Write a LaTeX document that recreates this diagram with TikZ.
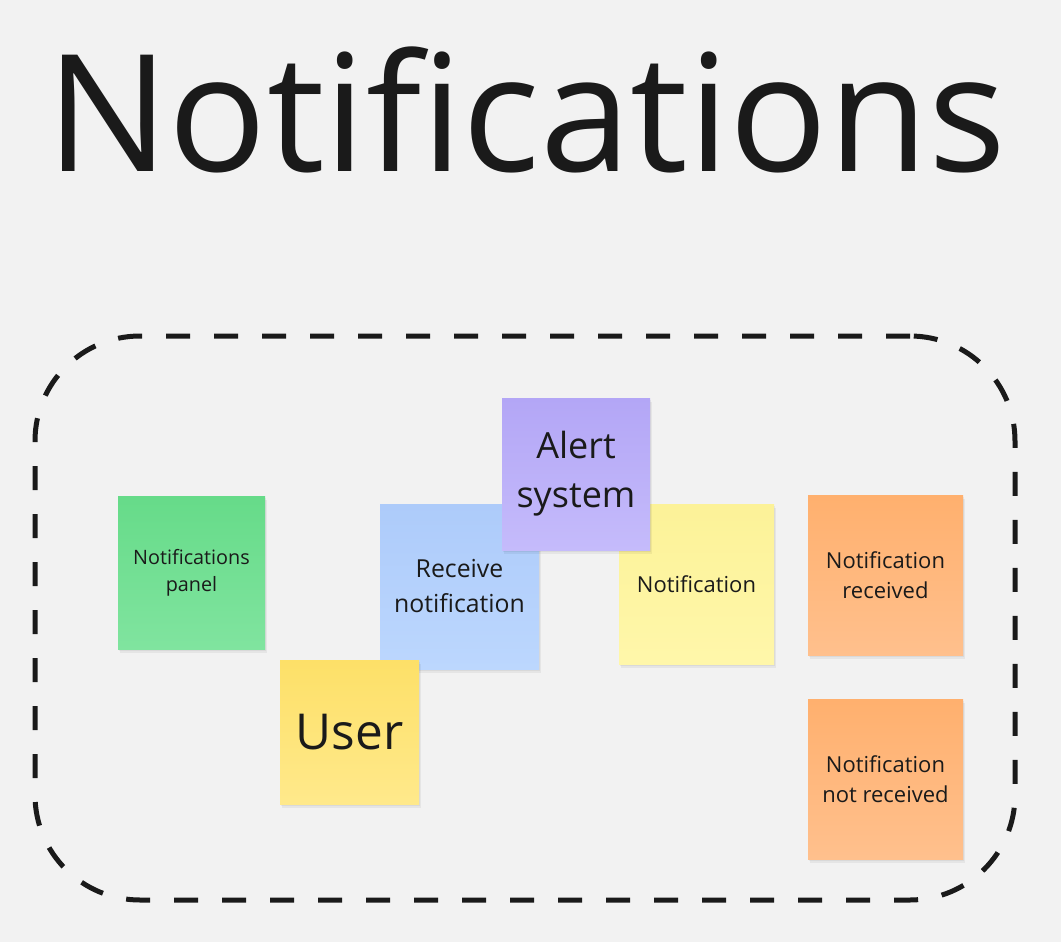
\documentclass[tikz,border=0pt]{standalone}
\usepackage{fontspec}
\setmainfont{Open Sans}
\usetikzlibrary{shadows}
\definecolor{bg}{HTML}{F2F2F2}
\definecolor{ink}{HTML}{1A1A1A}
\definecolor{greenT}{HTML}{66DB89}\definecolor{greenB}{HTML}{80E49F}
\definecolor{blueT}{HTML}{ADCBFA}\definecolor{blueB}{HTML}{BCD7FE}
\definecolor{purpT}{HTML}{B3A6F6}\definecolor{purpB}{HTML}{C5BBFB}
\definecolor{lyelT}{HTML}{FCF298}\definecolor{lyelB}{HTML}{FFF7AA}
\definecolor{oranT}{HTML}{FFB06E}\definecolor{oranB}{HTML}{FFC08D}
\definecolor{uyelT}{HTML}{FDE068}\definecolor{uyelB}{HTML}{FFE98B}
\begin{document}
\begin{tikzpicture}[x=1pt,y=-1pt,
  note/.style={inner sep=0pt, align=center, text=ink,
    drop shadow={shadow xshift=2pt,shadow yshift=-4pt,opacity=0.05,fill=black},
    drop shadow={shadow xshift=1pt,shadow yshift=-2pt,opacity=0.05,fill=black}},
  notesmall/.style={note,font=\fontsize{19.8}{27}\selectfont},
  notemid/.style={note,font=\fontsize{22}{30.5}\selectfont},
  notebig/.style={note,font=\fontsize{24.8}{35}\selectfont},
]
\fill[bg] (0,0) rectangle (1061,942);
\useasboundingbox (0,0) rectangle (1061,942);

\node[anchor=base, text=ink, inner sep=0pt, font=\fontsize{163}{190}\selectfont] (title) at (526,171) {Notifications};

\node[draw=ink, line width=5pt, dash pattern=on 24pt off 24pt, rounded corners=105pt,
  minimum width=980pt, minimum height=564pt, inner sep=0pt] (frame) at (525,618) {};

\node[notesmall, top color=greenT, bottom color=greenB, minimum width=147pt, minimum height=153pt] (panel) at (191.5,572.5) {Notifications\\panel};
\node[notebig, top color=blueT, bottom color=blueB, minimum width=159pt, minimum height=165pt] (receive) at (459.5,586.5) {Receive\\notification};
\node[notemid, top color=lyelT, bottom color=lyelB, minimum width=155pt, minimum height=160pt] (notif) at (696.5,584) {Notification};
\node[note, font=\fontsize{36}{49}\selectfont, top color=purpT, bottom color=purpB, minimum width=148pt, minimum height=152pt] (alert) at (576,474) {Alert\\system};
\node[note, font=\fontsize{49.5}{56}\selectfont, top color=uyelT, bottom color=uyelB, minimum width=139pt, minimum height=144pt] (user) at (349.5,732) {User};
\node[notemid, top color=oranT, bottom color=oranB, minimum width=155pt, minimum height=160pt] (recv) at (885.5,575) {Notification\\received};
\node[notemid, top color=oranT, bottom color=oranB, minimum width=155pt, minimum height=160pt] (notrecv) at (885.5,779) {Notification\\not received};
\end{tikzpicture}
\end{document}
